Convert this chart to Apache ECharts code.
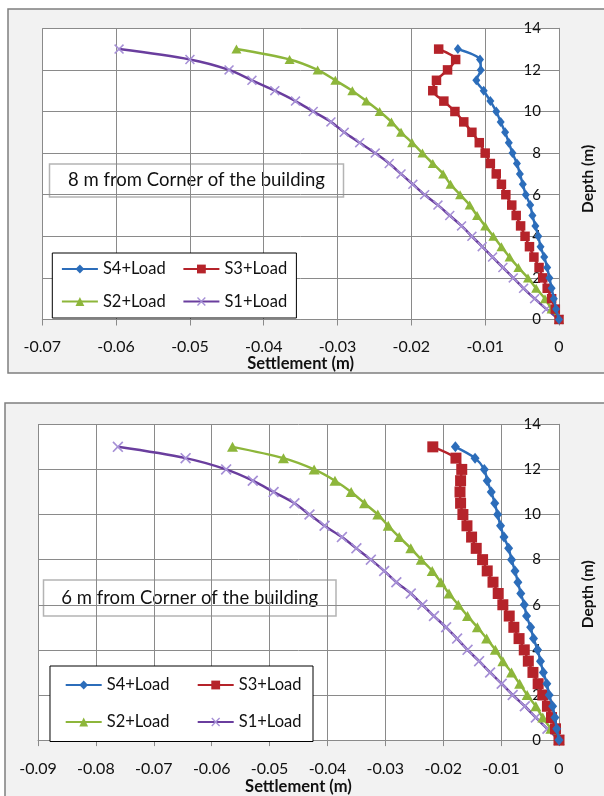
<!DOCTYPE html>
<html>
<head>
<meta charset="utf-8">
<script src="https://cdn.jsdelivr.net/npm/echarts@6/dist/echarts.min.js"></script>
<style>
  html, body { margin: 0; padding: 0; background: #ffffff; }
  #chart { width: 604px; height: 796px; }
</style>
</head>
<body>
<div id="chart"></div>
<script>
// Depth below ground (m), shared by every curve
const depths = [0, 0.5, 1, 1.5, 2, 2.5, 3, 3.5, 4, 4.5, 5, 5.5, 6, 6.5, 7, 7.5, 8, 8.5, 9, 9.5, 10, 10.5, 11, 11.5, 12, 12.5, 13];

// Settlement (m) at 8 m from the corner of the building
const s4At8m = [0, -0.0004, -0.0007, -0.0010, -0.0013, -0.0016, -0.0020, -0.0025, -0.0028, -0.0032, -0.0036, -0.0039, -0.0045, -0.0049, -0.0053, -0.0057, -0.0063, -0.0068, -0.0073, -0.0079, -0.0085, -0.0093, -0.0102, -0.0112, -0.0106, -0.0107, -0.0137];
const s3At8m = [0, -0.0005, -0.0010, -0.0016, -0.0022, -0.0027, -0.0034, -0.0040, -0.0046, -0.0052, -0.0058, -0.0064, -0.0072, -0.0078, -0.0085, -0.0093, -0.0100, -0.0108, -0.0118, -0.0129, -0.0141, -0.0156, -0.0171, -0.0166, -0.0151, -0.0140, -0.0163];
const s2At8m = [0, -0.0010, -0.0019, -0.0031, -0.0042, -0.0055, -0.0067, -0.0078, -0.0089, -0.0100, -0.0111, -0.0121, -0.0134, -0.0147, -0.0157, -0.0171, -0.0185, -0.0199, -0.0214, -0.0227, -0.0243, -0.0261, -0.0280, -0.0303, -0.0327, -0.0365, -0.0437];
const s1At8m = [0, -0.0017, -0.0033, -0.0048, -0.0062, -0.0076, -0.0090, -0.0104, -0.0118, -0.0132, -0.0148, -0.0164, -0.0182, -0.0198, -0.0214, -0.0230, -0.0249, -0.0270, -0.0291, -0.0309, -0.0333, -0.0357, -0.0385, -0.0416, -0.0447, -0.0500, -0.0596];

// Settlement (m) at 6 m from the corner of the building
const s4At6m = [0, -0.0004, -0.0007, -0.0011, -0.0017, -0.0021, -0.0027, -0.0032, -0.0037, -0.0044, -0.0049, -0.0056, -0.0060, -0.0066, -0.0071, -0.0076, -0.0082, -0.0087, -0.0095, -0.0101, -0.0106, -0.0111, -0.0117, -0.0124, -0.0129, -0.0145, -0.0179];
const s3At6m = [0, -0.0006, -0.0013, -0.0020, -0.0028, -0.0036, -0.0045, -0.0053, -0.0060, -0.0069, -0.0078, -0.0086, -0.0097, -0.0105, -0.0114, -0.0124, -0.0132, -0.0143, -0.0151, -0.0159, -0.0166, -0.0170, -0.0171, -0.0170, -0.0168, -0.0178, -0.0218];
const s2At6m = [0, -0.0014, -0.0028, -0.0040, -0.0055, -0.0068, -0.0082, -0.0097, -0.0110, -0.0125, -0.0141, -0.0158, -0.0174, -0.0190, -0.0204, -0.0219, -0.0238, -0.0256, -0.0276, -0.0295, -0.0313, -0.0336, -0.0359, -0.0387, -0.0423, -0.0476, -0.0564];
const s1At6m = [0, -0.0020, -0.0040, -0.0059, -0.0080, -0.0099, -0.0119, -0.0138, -0.0158, -0.0176, -0.0195, -0.0216, -0.0236, -0.0256, -0.0281, -0.0302, -0.0325, -0.0350, -0.0375, -0.0405, -0.0431, -0.0457, -0.0493, -0.0529, -0.0575, -0.0645, -0.0762];

const seriesNames = ['S4+Load', 'S3+Load', 'S2+Load', 'S1+Load'];
const panelTitles = ['8 m from Corner of the building', '6 m from Corner of the building'];
const xMins = [-0.07, -0.09];
const depthMax = 14;

const FONT = 'Lato, "Open Sans", sans-serif';
const GRID_GRAY = '#8a8a8a';

// thin "x" marker used for S1
const crossPath = 'path://M0,1.1 L1.1,0 L5,3.9 L8.9,0 L10,1.1 L6.1,5 L10,8.9 L8.9,10 L5,6.1 L1.1,10 L0,8.9 L3.9,5 Z';

const styles = [
  { line: '#2C6DBA', item: '#2C6DBA', symbol: 'diamond' },
  { line: '#B5232A', item: '#B5232A', symbol: 'rect' },
  { line: '#8DB63B', item: '#8DB63B', symbol: 'triangle' },
  { line: '#6A3E9E', item: '#A690D6', symbol: crossPath }
];

const panels = [
  { values: [s4At8m, s3At8m, s2At8m, s1At8m],
    sizes: [[8, 10], 9.5, [10, 9], 10],
    grid: { left: 42.3, top: 28.3, width: 519.4, height: 291.2 },
    box: { x: 8, y: 9, w: 610, h: 364 },
    note: { x: 49.5, y: 164, w: 294, h: 33 },
    legend: { left: 52.3, top: 253, padding: [7.5, 8, 8, 8.6], textWidth: 64, gap: 15.5, lh: 13.5 },
    labelMargin: 20, nameGap: 35, yNamePad: [0, 10, 0, 0] },
  { values: [s4At6m, s3At6m, s2At6m, s1At6m],
    sizes: [[9, 11], 11, [11, 10], 11],
    grid: { left: 38, top: 424.3, width: 522, height: 320.7 },
    box: { x: 5, y: 403, w: 610, h: 420 },
    note: { x: 43.5, y: 580, w: 292.5, h: 36 },
    legend: { left: 50, top: 666, padding: [10.5, 4.3, 11, 14.7], textWidth: 70, gap: 20, lh: 15 },
    labelMargin: 22, nameGap: 36, yNamePad: [0, 24, 0, 0] }
];

const grids = [], xAxes = [], yAxes = [], series = [], legends = [], graphics = [];

panels.forEach((p, i) => {
  // chart-area panel with its frame
  graphics.push({
    type: 'rect', z: -10,
    shape: { x: p.box.x, y: p.box.y, width: p.box.w, height: p.box.h },
    style: { fill: '#f2f2f2', stroke: '#7f7f7f', lineWidth: 1.5 }
  });

  grids.push(Object.assign({ show: true, backgroundColor: '#ffffff', borderWidth: 0, containLabel: false }, p.grid));

  xAxes.push({
    gridIndex: i, type: 'value', min: xMins[i], max: 0, interval: 0.01,
    position: 'bottom',
    name: 'Settlement (m)', nameLocation: 'middle', nameGap: p.nameGap,
    nameTextStyle: { fontFamily: FONT, fontWeight: 'bold', fontSize: 16.5, color: '#111' },
    axisLine: { onZero: false, lineStyle: { color: GRID_GRAY, width: 1 } },
    axisTick: { show: true, inside: false, length: 6, lineStyle: { color: GRID_GRAY } },
    axisLabel: { fontFamily: FONT, fontSize: 16, color: '#111', margin: p.labelMargin - 1 },
    splitLine: { show: true, lineStyle: { color: GRID_GRAY, width: 1 } }
  });

  yAxes.push({
    gridIndex: i, type: 'value', min: 0, max: depthMax, interval: 2,
    position: 'right',
    name: 'Depth (m)', nameLocation: 'middle', nameRotate: 90, nameGap: 21,
    nameTextStyle: { fontFamily: FONT, fontWeight: 'bold', fontSize: 15.5, color: '#111', padding: p.yNamePad },
    axisLine: { onZero: false, lineStyle: { color: GRID_GRAY, width: 1 } },
    axisTick: { show: false },
    axisLabel: { inside: true, margin: 18, fontFamily: FONT, fontSize: 15, color: '#111' },
    splitLine: { show: true, lineStyle: { color: GRID_GRAY, width: 1 } }
  });

  seriesNames.forEach((name, k) => {
    const st = styles[k];
    series.push({
      name: name, type: 'line', xAxisIndex: i, yAxisIndex: i,
      data: p.values[k].map((v, j) => [v, depths[j]]),
      smooth: 0.3,
      symbol: st.symbol, symbolSize: p.sizes[k], showAllSymbol: true,
      lineStyle: { color: st.line, width: 2.5 },
      itemStyle: { color: st.item },
      emphasis: { disabled: true },
      z: 10 - k
    });
  });

  legends.push({
    data: seriesNames,
    left: p.legend.left, top: p.legend.top, width: 2 * (41 + p.legend.textWidth) + p.legend.gap + 10,
    orient: 'horizontal', itemGap: p.legend.gap, itemWidth: 36, itemHeight: 11,
    padding: p.legend.padding,
    backgroundColor: '#ffffff', borderColor: '#000000', borderWidth: 1, borderRadius: 0,
    selectedMode: false,
    textStyle: { fontFamily: FONT, fontSize: 16.5, color: '#111', width: p.legend.textWidth, lineHeight: p.legend.lh }
  });

  // text box naming the location of the profile
  graphics.push({
    type: 'group', z: 50,
    children: [
      { type: 'rect', shape: { x: p.note.x, y: p.note.y, width: p.note.w, height: p.note.h },
        style: { fill: '#ffffff', stroke: '#b4b4b4', lineWidth: 1.5 } },
      { type: 'text', x: p.note.x + p.note.w / 2, y: p.note.y + p.note.h / 2,
        style: { text: panelTitles[i], fontFamily: FONT, fontSize: 18.5, fill: '#111', align: 'center', verticalAlign: 'middle' } }
    ]
  });
});

const chart = echarts.init(document.getElementById('chart'), null, { renderer: 'canvas' });
chart.setOption({
  animation: false,
  backgroundColor: '#ffffff',
  grid: grids,
  xAxis: xAxes,
  yAxis: yAxes,
  legend: legends,
  graphic: graphics,
  series: series
});
</script>
</body>
</html>
